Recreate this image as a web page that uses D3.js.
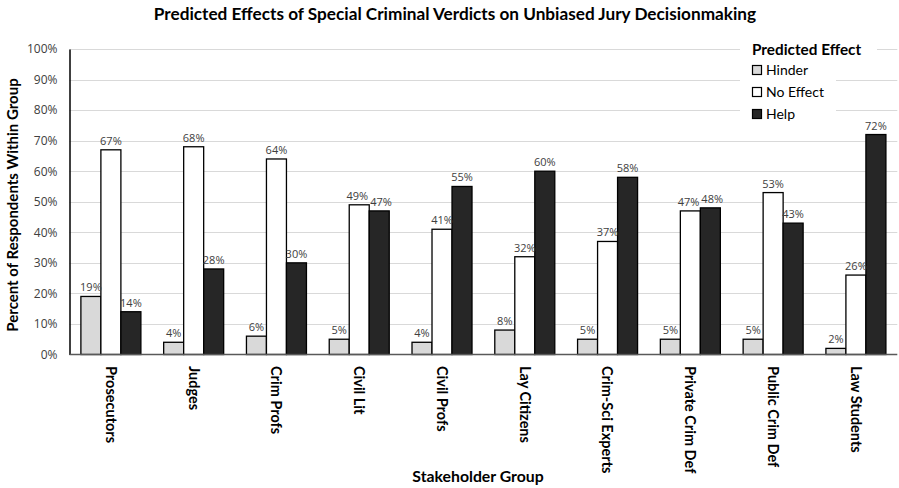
<!DOCTYPE html>
<html>
<head>
<meta charset="utf-8">
<script src="https://cdn.jsdelivr.net/npm/d3@7"></script>
<style>
  html, body { margin: 0; padding: 0; background: #fff; }
  svg { display: block; font-family: "Lato", "Open Sans", sans-serif; }
</style>
</head>
<body>
<svg id="chart" width="899" height="488"></svg>
<script>
// Stakeholder groups along the x axis
const categories = ["Prosecutors", "Judges", "Crim Profs", "Civil Lit", "Civil Profs",
  "Lay Citizens", "Crim-Sci Experts", "Private Crim Def", "Public Crim Def", "Law Students"];

// Share of respondents (%) per predicted effect
const hinder   = [19, 4, 6, 5, 4, 8, 5, 5, 5, 2];
const noEffect = [67, 68, 64, 49, 41, 32, 37, 47, 53, 26];
const help     = [14, 28, 30, 47, 55, 60, 58, 48, 43, 72];

const seriesNames = ["Hinder", "No Effect", "Help"];
const yTicks = [0, 10, 20, 30, 40, 50, 60, 70, 80, 90, 100];

const colors = { "Hinder": "#d9d9d9", "No Effect": "#ffffff", "Help": "#262626" };
const seriesValues = { "Hinder": hinder, "No Effect": noEffect, "Help": help };

const svg = d3.select("#chart");
const plot = { left: 69.5, right: 897.3, top: 49, bottom: 354.5 };

const x = d3.scaleBand().domain(categories).range([plot.left, plot.right]).padding(0);
const xSub = d3.scaleBand().domain(seriesNames).range([0, 60]).padding(0);
const y = d3.scaleLinear().domain([0, 100]).range([plot.bottom, plot.top]);

// Horizontal gridlines
svg.append("g")
  .selectAll("line")
  .data(yTicks.filter(t => t > 0))
  .join("line")
  .attr("x1", plot.left).attr("x2", plot.right)
  .attr("y1", d => Math.round(y(d)) + 0.5).attr("y2", d => Math.round(y(d)) + 0.5)
  .attr("stroke", "#d9d9d9").attr("stroke-width", 1);

// Y axis
const yAxis = svg.append("g")
  .attr("transform", `translate(${plot.left},0)`)
  .call(d3.axisLeft(y).tickValues(yTicks).tickSize(0).tickPadding(12).tickFormat(d => d + "%"));
yAxis.select(".domain").attr("stroke", "#000").attr("stroke-width", 1.5);
yAxis.selectAll("text").attr("font-size", 12).attr("fill", "#404040")
  .attr("font-family", "'Open Sans', sans-serif");

// Bars
const groups = svg.append("g")
  .selectAll("g")
  .data(categories)
  .join("g")
  .attr("transform", d => `translate(${x(d) + x.bandwidth() / 2 - 30},0)`);

const rows = (c, i) => seriesNames.map(s => ({ series: s, value: seriesValues[s][i] }));

groups.each(function (c, i) {
  const g = d3.select(this);
  const data = rows(c, i);
  g.selectAll("rect")
    .data(data)
    .join("rect")
    .attr("x", d => xSub(d.series))
    .attr("width", xSub.bandwidth())
    .attr("y", d => y(d.value))
    .attr("height", d => y(0) - y(d.value))
    .attr("fill", d => colors[d.series])
    .attr("stroke", "#000")
    .attr("stroke-width", 1.3);
  const labels = g.selectAll("text")
    .data(data)
    .join("text")
    .attr("x", d => xSub(d.series) + xSub.bandwidth() / 2)
    .attr("y", d => y(d.value) - 5)
    .attr("text-anchor", "middle")
    .attr("font-size", 11)
    .attr("font-family", "'Open Sans', sans-serif")
    .attr("fill", "#404040")
    .text(d => d.value + "%");

  // Push apart neighbouring value labels that would collide
  const nodes = labels.nodes();
  for (let k = 1; k < nodes.length; k++) {
    const a = nodes[k - 1].getBBox(), b = nodes[k].getBBox();
    const vOverlap = Math.abs(a.y - b.y) < a.height;
    const hOverlap = a.x + a.width + 2 - b.x;
    if (vOverlap && hOverlap > 0) {
      d3.select(nodes[k - 1]).attr("x", +nodes[k - 1].getAttribute("x") - hOverlap / 2);
      d3.select(nodes[k]).attr("x", +nodes[k].getAttribute("x") + hOverlap / 2);
    }
  }
});

// X axis baseline
svg.append("line")
  .attr("x1", plot.left).attr("x2", plot.right)
  .attr("y1", plot.bottom).attr("y2", plot.bottom)
  .attr("stroke", "#595959").attr("stroke-width", 1.5);

// Category labels, rotated to read downward
svg.append("g")
  .selectAll("text")
  .data(categories)
  .join("text")
  .attr("transform", d => `translate(${x(d) + x.bandwidth() / 2},366) rotate(90)`)
  .attr("dy", "0.35em")
  .attr("font-size", 14.5)
  .attr("font-weight", "bold")
  .attr("fill", "#000")
  .text(d => d);

// Titles
svg.append("text")
  .attr("x", 455).attr("y", 20)
  .attr("text-anchor", "middle")
  .attr("font-size", 17.2).attr("font-weight", "bold")
  .text("Predicted Effects of Special Criminal Verdicts on Unbiased Jury Decisionmaking");

svg.append("text")
  .attr("transform", "translate(18,205) rotate(-90)")
  .attr("text-anchor", "middle")
  .attr("font-size", 15).attr("font-weight", "bold")
  .text("Percent of Respondents Within Group");

svg.append("text")
  .attr("x", 478).attr("y", 482)
  .attr("text-anchor", "middle")
  .attr("font-size", 15.8).attr("font-weight", "bold")
  .text("Stakeholder Group");

// Legend
const legend = svg.append("g");
legend.append("rect").attr("x", 740).attr("y", 38).attr("width", 137).attr("height", 24).attr("fill", "#fff");
legend.append("rect").attr("x", 740).attr("y", 62).attr("width", 96).attr("height", 62).attr("fill", "#fff");
legend.append("text")
  .attr("x", 752).attr("y", 55)
  .attr("font-size", 15.3).attr("font-weight", "bold")
  .text("Predicted Effect");
const items = legend.selectAll("g.item")
  .data(seriesNames)
  .join("g")
  .attr("class", "item")
  .attr("transform", (d, i) => `translate(752,${70 + i * 22})`);
items.append("rect")
  .attr("x", 0.5).attr("y", -4.5).attr("width", 9).attr("height", 9)
  .attr("fill", d => colors[d]).attr("stroke", "#000").attr("stroke-width", 1.2);
items.append("text")
  .attr("x", 14).attr("y", 0).attr("dy", "0.35em")
  .attr("font-size", 14)
  .text(d => d);
</script>
</body>
</html>
